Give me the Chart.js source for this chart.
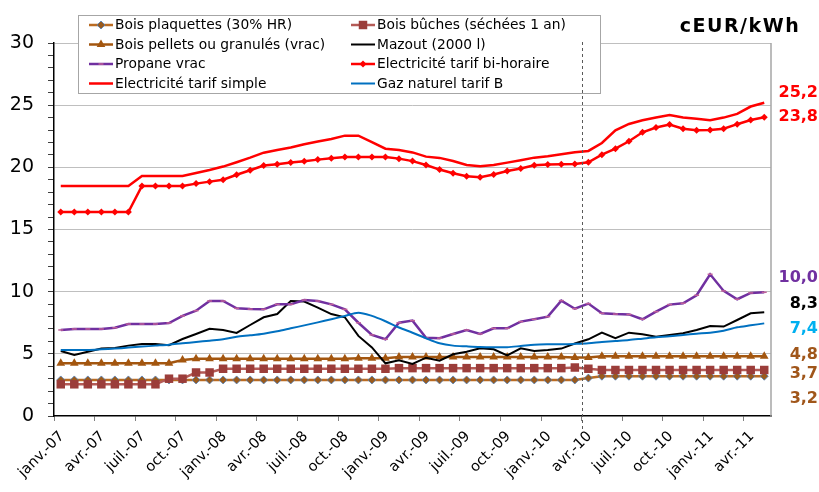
<!DOCTYPE html>
<html>
<head>
<meta charset="utf-8">
<script src="https://cdn.jsdelivr.net/npm/chart.js@4"></script>
<style>
  html, body { margin: 0; padding: 0; background: #fff; }
  #wrap { width: 819px; height: 492px; }
</style>
</head>
<body>
<div id="wrap"><canvas id="energyChart" width="819" height="492"></canvas></div>
<script>
// ── Data (monthly, janv.-07 → mai-11, cEUR/kWh) ──────────────────────────────
const tickLabels = [
  'janv.-07','avr.-07','juil.-07','oct.-07',
  'janv.-08','avr.-08','juil.-08','oct.-08',
  'janv.-09','avr.-09','juil.-09','oct.-09',
  'janv.-10','avr.-10','juil.-10','oct.-10',
  'janv.-11','avr.-11',
];

const boisPlaquettes = [
  2.9, 2.9, 2.9, 2.9, 2.9, 2.9, 2.9, 2.9, 2.9, 2.9, 2.9, 2.9, 2.9,
  2.9, 2.9, 2.9, 2.9, 2.9, 2.9, 2.9, 2.9, 2.9, 2.9, 2.9, 2.9, 2.9,
  2.9, 2.9, 2.9, 2.9, 2.9, 2.9, 2.9, 2.9, 2.9, 2.9, 2.9, 2.9, 2.9,
  3.05, 3.2, 3.2, 3.2, 3.2, 3.2, 3.2, 3.2, 3.2, 3.2, 3.2, 3.2, 3.2, 3.2,
];

const boisBuches = [
  2.55, 2.55, 2.55, 2.55, 2.55, 2.55, 2.55, 2.55, 3.0, 3.0, 3.5, 3.5, 3.8,
  3.8, 3.8, 3.8, 3.8, 3.8, 3.8, 3.8, 3.8, 3.8, 3.8, 3.8, 3.8, 3.85,
  3.85, 3.85, 3.85, 3.85, 3.85, 3.85, 3.85, 3.85, 3.85, 3.85, 3.85, 3.85, 3.9,
  3.8, 3.7, 3.7, 3.7, 3.7, 3.7, 3.7, 3.7, 3.7, 3.7, 3.7, 3.7, 3.7, 3.7,
];

const boisPellets = [
  4.25, 4.25, 4.25, 4.25, 4.25, 4.25, 4.25, 4.25, 4.25, 4.5, 4.6, 4.6, 4.6,
  4.6, 4.6, 4.6, 4.6, 4.6, 4.6, 4.6, 4.6, 4.6, 4.65, 4.65, 4.65, 4.75,
  4.75, 4.75, 4.75, 4.75, 4.75, 4.75, 4.75, 4.75, 4.75, 4.75, 4.75, 4.75, 4.7,
  4.7, 4.8, 4.8, 4.8, 4.8, 4.8, 4.8, 4.8, 4.8, 4.8, 4.8, 4.8, 4.8, 4.8,
];

const mazout = [
  5.23, 4.9, 5.17, 5.42, 5.47, 5.66, 5.79, 5.79, 5.69, 6.19, 6.6, 7.02, 6.92,
  6.68, 7.32, 7.94, 8.2, 9.25, 9.2, 8.72, 8.2, 7.94, 6.44, 5.52, 4.24, 4.48,
  4.18, 4.69, 4.45, 4.96, 5.17, 5.44, 5.36, 4.88, 5.44, 5.23, 5.31, 5.42, 5.83,
  6.17, 6.7, 6.25, 6.7, 6.57, 6.38, 6.52, 6.65, 6.92, 7.24, 7.19, 7.72, 8.26, 8.34,
];

const propane = [
  6.92, 7.0, 7.0, 7.0, 7.1, 7.4, 7.4, 7.4, 7.48, 8.05, 8.47, 9.25, 9.25,
  8.66, 8.6, 8.58, 8.98, 8.98, 9.33, 9.25, 8.98, 8.58, 7.5, 6.52, 6.17, 7.5,
  7.67, 6.3, 6.26, 6.6, 6.92, 6.6, 7.05, 7.05, 7.59, 7.78, 7.99, 9.28, 8.63,
  9.04, 8.26, 8.2, 8.17, 7.78, 8.39, 8.96, 9.07, 9.71, 11.4, 10.06, 9.39, 9.9, 9.95,
];

const elecBiHoraire = [
  16.4, 16.4, 16.4, 16.4, 16.4, 16.4, 18.5, 18.5, 18.5, 18.5, 18.69, 18.85, 19.0,
  19.4, 19.77, 20.14, 20.25, 20.38, 20.49, 20.62, 20.73, 20.84, 20.84, 20.84, 20.84, 20.7,
  20.5, 20.19, 19.82, 19.52, 19.28, 19.2, 19.42, 19.71, 19.9, 20.16, 20.22, 20.25, 20.27,
  20.4, 21.02, 21.5, 22.1, 22.82, 23.2, 23.44, 23.1, 22.98, 23.0, 23.1, 23.47, 23.81, 24.03,
];

const elecSimple = [
  18.5, 18.5, 18.5, 18.5, 18.5, 18.5, 19.3, 19.3, 19.3, 19.3, 19.55, 19.79, 20.06,
  20.41, 20.78, 21.18, 21.4, 21.6, 21.85, 22.07, 22.28, 22.55, 22.55, 22.02, 21.5, 21.4,
  21.2, 20.86, 20.76, 20.51, 20.19, 20.09, 20.19, 20.38, 20.57, 20.78, 20.89, 21.05, 21.21,
  21.32, 21.96, 22.98, 23.49, 23.78, 24.0, 24.2, 24.0, 23.9, 23.78, 24.0, 24.3, 24.89, 25.2,
];

const gazNaturel = [
  5.31, 5.31, 5.31, 5.36, 5.42, 5.5, 5.58, 5.66, 5.74, 5.85, 5.95, 6.06, 6.17,
  6.38, 6.49, 6.62, 6.81, 7.05, 7.29, 7.53, 7.78, 8.05, 8.31, 8.05, 7.62, 7.12,
  6.7, 6.25, 5.85, 5.66, 5.6, 5.55, 5.53, 5.53, 5.63, 5.74, 5.77, 5.77, 5.8,
  5.85, 5.95, 6.03, 6.11, 6.22, 6.33, 6.41, 6.52, 6.62, 6.7, 6.86, 7.13, 7.29, 7.45,
];

// ── Colours ──────────────────────────────────────────────────────────────────
const COL = {
  plaqLine:  '#BA6B22',
  plaqPoint: '#9A5A1C',
  plaqEdge:  '#4F81BD',
  buchLine:  '#B45A56',
  buchPoint: '#9B3D3A',
  pellet:    '#A3560F',
  mazout:    '#000000',
  propane:   '#7030A0',
  propMark:  '#C0609A',
  red:       '#FF0000',
  gaz:       '#0070C0',
  gazLabel:  '#00B0F0',
  brownText: '#A0561A',
  grid:      '#BFBFBF',
  frame:     '#A6A6A6',
};

const FONT = "'DejaVu Sans', Verdana, sans-serif";

const toXY = arr => arr.map((v, i) => ({ x: i + 0.5, y: v }));

// series definitions (legend order = Excel order, 2 columns)
const series = [
  { label: 'Bois plaquettes (30% HR)', data: boisPlaquettes, borderColor: COL.plaqLine, borderWidth: 2.5,
    pointStyle: 'rectRot', pointRadius: 4, pointBackgroundColor: COL.plaqPoint, pointBorderColor: COL.plaqEdge, pointBorderWidth: 0.8 },
  { label: 'Bois bûches (séchées 1 an)', data: boisBuches, borderColor: COL.buchLine, borderWidth: 2.5,
    pointStyle: 'rect', pointRadius: 6, pointBackgroundColor: COL.buchPoint, pointBorderColor: COL.buchPoint, pointBorderWidth: 0 },
  { label: 'Bois pellets ou granulés (vrac)', data: boisPellets, borderColor: COL.pellet, borderWidth: 2.5,
    pointStyle: 'triangle', pointRadius: 5, pointBackgroundColor: COL.pellet, pointBorderColor: COL.pellet, pointBorderWidth: 0 },
  { label: 'Mazout (2000 l)', data: mazout, borderColor: COL.mazout, borderWidth: 2,
    pointStyle: 'circle', pointRadius: 0 },
  { label: 'Propane vrac', data: propane, borderColor: COL.propane, borderWidth: 2.5,
    pointStyle: 'line', pointRadius: 2.5, pointBackgroundColor: COL.propMark, pointBorderColor: COL.propMark, pointBorderWidth: 1.5 },
  { label: 'Electricité tarif bi-horaire', data: elecBiHoraire, borderColor: COL.red, borderWidth: 2.5,
    pointStyle: 'rectRot', pointRadius: 3.5, pointBackgroundColor: COL.red, pointBorderColor: COL.red, pointBorderWidth: 0 },
  { label: 'Electricité tarif simple', data: elecSimple, borderColor: COL.red, borderWidth: 2.5,
    pointStyle: 'circle', pointRadius: 0 },
  { label: 'Gaz naturel tarif B', data: gazNaturel, borderColor: COL.gaz, borderWidth: 2,
    pointStyle: 'circle', pointRadius: 0, tension: 0.3 },
];

// end-of-line value labels (text, colour, anchor value on y scale)
const endLabels = [
  { text: '25,2', color: COL.red,       at: 26.0 },
  { text: '23,8', color: COL.red,       at: 24.05 },
  { text: '10,0', color: COL.propane,   at: 11.1 },
  { text: '8,3',  color: COL.mazout,    at: 9.0 },
  { text: '7,4',  color: COL.gazLabel,  at: 7.05 },
  { text: '4,8',  color: COL.brownText, at: 4.9 },
  { text: '3,7',  color: COL.brownText, at: 3.4 },
  { text: '3,2',  color: COL.brownText, at: 1.4 },
];

// ── Helper: marker drawing (legend samples) ──────────────────────────────────
function drawMarker(ctx, s, x, y) {
  if (!s.pointRadius) return;
  ctx.save();
  ctx.fillStyle = s.pointBackgroundColor;
  ctx.strokeStyle = s.pointBorderColor;
  const opts = { pointStyle: s.pointStyle, radius: s.pointRadius, rotation: 0, borderWidth: s.pointBorderWidth || 0 };
  if (window.Chart && Chart.helpers && Chart.helpers.drawPoint) {
    ctx.lineWidth = opts.borderWidth;
    Chart.helpers.drawPoint(ctx, opts, x, y);
  }
  ctx.restore();
}

// ── Plugin: frame, legend box, dashed marker line, title, end labels ─────────
const decorPlugin = {
  id: 'decor',
  afterDraw(chart) {
    const { ctx, chartArea: a, scales } = chart;
    ctx.save();

    // right frame edge
    ctx.strokeStyle = COL.frame;
    ctx.lineWidth = 1.5;
    ctx.beginPath();
    ctx.moveTo(a.right, a.top);
    ctx.lineTo(a.right, a.bottom);
    ctx.stroke();

    // legend box
    const lx = 78, ly = 15, lw = 522, lh = 78;
    ctx.fillStyle = '#FFFFFF';
    ctx.fillRect(lx, ly, lw, lh);
    ctx.strokeStyle = COL.frame;
    ctx.lineWidth = 1;
    ctx.strokeRect(lx + 0.5, ly + 0.5, lw, lh);

    const colX = [89, 351];
    const rowY = [25, 44.5, 64, 83.5];
    ctx.font = '13.8px ' + FONT;
    ctx.textBaseline = 'middle';
    ctx.textAlign = 'left';
    series.forEach((s, i) => {
      const cx = colX[i % 2], cy = rowY[Math.floor(i / 2)];
      ctx.strokeStyle = s.borderColor;
      ctx.lineWidth = s.borderWidth;
      ctx.beginPath();
      ctx.moveTo(cx, cy);
      ctx.lineTo(cx + 24, cy);
      ctx.stroke();
      drawMarker(ctx, s, cx + 12, cy);
      ctx.fillStyle = '#000';
      ctx.fillText(s.label, cx + 26, cy + 0.5);
    });

    // dashed vertical line at avr.-10
    const xd = Math.round(scales.x.getPixelForValue(39)) + 0.5;
    ctx.strokeStyle = '#595959';
    ctx.lineWidth = 1;
    ctx.setLineDash([3, 3]);
    ctx.beginPath();
    ctx.moveTo(xd, a.top - 1);
    ctx.lineTo(xd, a.bottom + 14);
    ctx.stroke();
    ctx.setLineDash([]);

    // unit title
    ctx.fillStyle = '#000';
    ctx.font = 'bold 19px ' + FONT;
    ctx.textAlign = 'center';
    if ('letterSpacing' in ctx) ctx.letterSpacing = '1.5px';
    ctx.fillText('cEUR/kWh', 740, 27);
    if ('letterSpacing' in ctx) ctx.letterSpacing = '0px';

    // end labels
    ctx.font = 'bold 16px ' + FONT;
    ctx.textAlign = 'right';
    endLabels.forEach(l => {
      ctx.fillStyle = l.color;
      ctx.fillText(l.text, 818, scales.y.getPixelForValue(l.at));
    });

    ctx.restore();
  },
};

// ── Chart ────────────────────────────────────────────────────────────────────
Chart.defaults.font.family = FONT;
Chart.defaults.color = '#000';

const datasets = series.map((s, i) => ({
  label: s.label,
  data: toXY(s.data),
  borderColor: s.borderColor,
  backgroundColor: s.borderColor,
  borderWidth: s.borderWidth,
  pointStyle: s.pointStyle,
  pointRadius: s.pointRadius,
  pointHoverRadius: s.pointRadius,
  pointBackgroundColor: s.pointBackgroundColor,
  pointBorderColor: s.pointBorderColor,
  pointBorderWidth: s.pointBorderWidth || 0,
  tension: s.tension || 0,
  fill: false,
  order: series.length - i,
}));

new Chart(document.getElementById('energyChart'), {
  type: 'line',
  data: { datasets },
  options: {
    responsive: false,
    animation: false,
    devicePixelRatio: 1,
    layout: { padding: { top: 43, right: 48, left: 0, bottom: 0 } },
    plugins: {
      legend: { display: false },
      tooltip: { enabled: false },
    },
    scales: {
      x: {
        type: 'linear',
        min: 0,
        max: 53,
        afterFit: s => { s.height = 76; },
        border: { display: true, color: '#000', width: 1.5 },
        grid: { drawOnChartArea: false, tickLength: 5, tickColor: '#808080' },
        ticks: {
          stepSize: 3,
          includeBounds: false,
          autoSkip: false,
          minRotation: 45,
          maxRotation: 45,
          padding: 7,
          labelOffset: 8,
          font: { size: 14.5 },
          color: '#000',
          callback: v => tickLabels[Math.round(v / 3)] || '',
        },
      },
      y: {
        min: 0,
        max: 30,
        afterFit: s => { s.width = 54; },
        border: { display: true, color: '#000', width: 1.5 },
        grid: {
          color: c => (c.tick && c.tick.value % 5 === 0 && c.tick.value !== 0) ? COL.grid : 'rgba(0,0,0,0)',
          lineWidth: 1,
          tickLength: 6,
          tickColor: '#404040',
        },
        ticks: {
          stepSize: 1,
          autoSkip: false,
          padding: 14,
          font: { size: 19 },
          color: '#000',
          callback: v => (v % 5 === 0 ? String(v) : ''),
        },
      },
    },
  },
  plugins: [decorPlugin],
});
</script>
</body>
</html>
